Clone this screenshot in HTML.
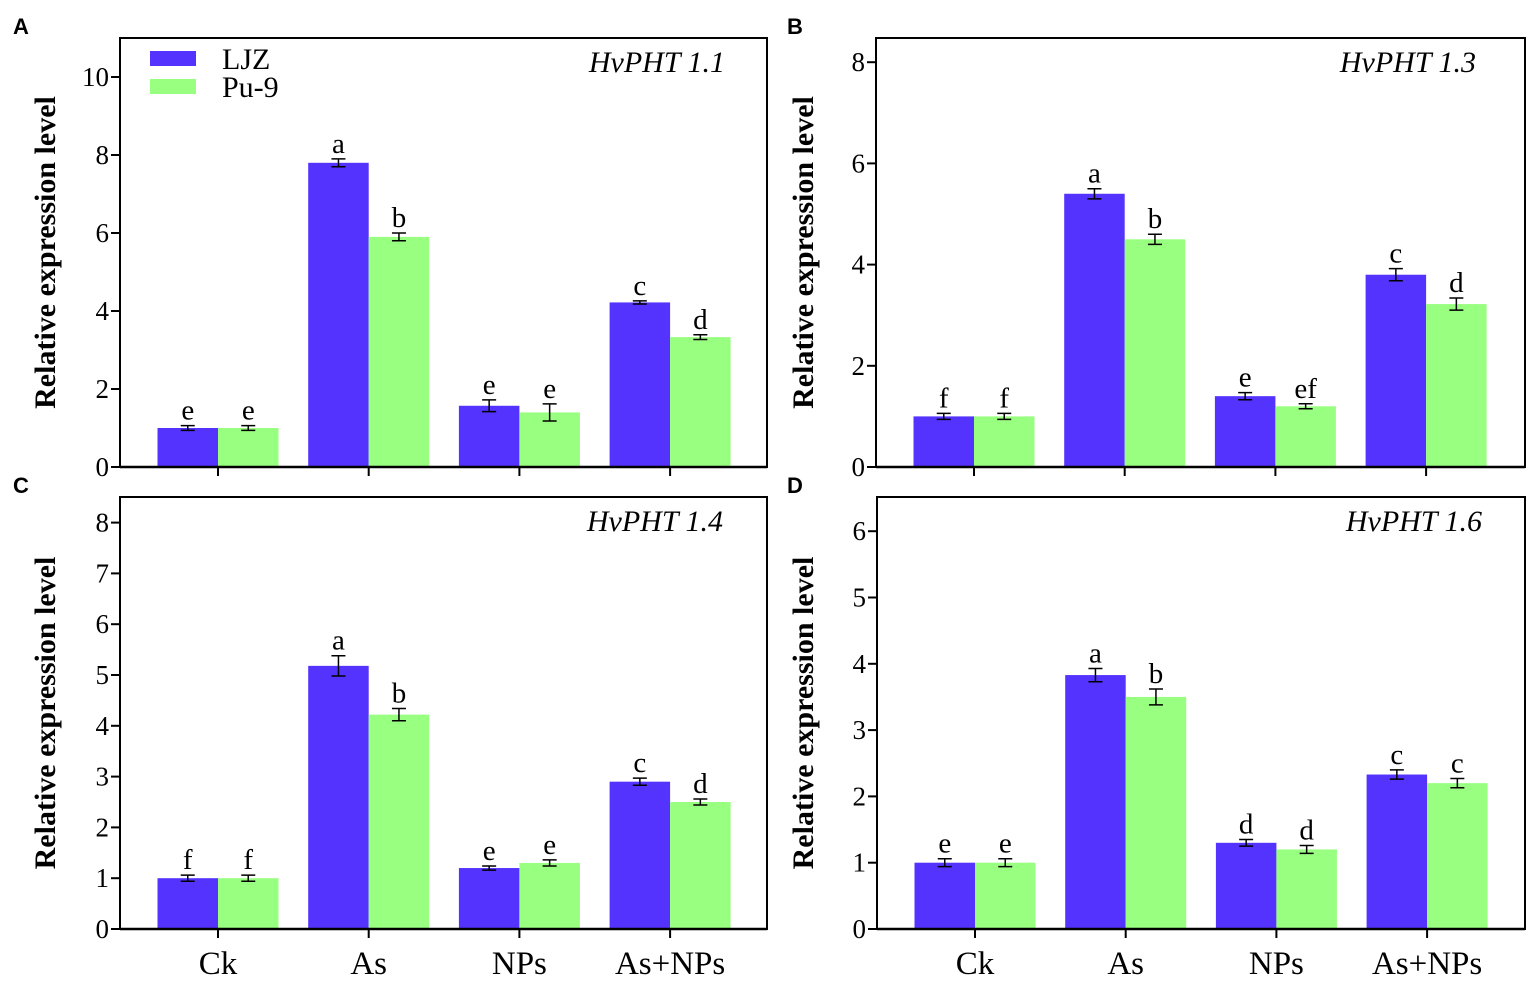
<!DOCTYPE html><html><head><meta charset="utf-8"><style>body{margin:0;background:#fff}svg{display:block}</style></head><body>
<svg id="s" width="1535" height="981" xmlns="http://www.w3.org/2000/svg" font-family="Liberation Serif, serif"></svg>
<script>
const P=[
 {L:'A',x0:120,x1:767,yt:38,y0:467,max:10,step:2,ppu:39,title:'HvPHT 1.1',tx:725,lx:13,ax:45,
  v:[[1,1],[7.8,5.9],[1.57,1.4],[4.22,3.33]],e:[[.06,.06],[.1,.1],[.15,.22],[.04,.06]],
  l:[['e','e'],['a','b'],['e','e'],['c','d']],cat:false,legend:true},
 {L:'B',x0:876,x1:1525,yt:38,y0:467,max:8,step:2,ppu:50.6,title:'HvPHT 1.3',tx:1476,lx:787,ax:803,
  v:[[1,1],[5.4,4.5],[1.4,1.2],[3.8,3.22]],e:[[.06,.06],[.1,.1],[.07,.05],[.12,.12]],
  l:[['f','f'],['a','b'],['e','ef'],['c','d']],cat:false},
 {L:'C',x0:120,x1:767,yt:497,y0:929,max:8,step:1,ppu:50.8,title:'HvPHT 1.4',tx:723,lx:13,ax:45,
  v:[[1,1],[5.18,4.22],[1.2,1.3],[2.9,2.5]],e:[[.06,.06],[.2,.12],[.04,.06],[.07,.06]],
  l:[['f','f'],['a','b'],['e','e'],['c','d']],cat:true},
 {L:'D',x0:877,x1:1525,yt:497,y0:929,max:6,step:1,ppu:66.3,title:'HvPHT 1.6',tx:1482,lx:787,ax:803,
  v:[[1,1],[3.83,3.5],[1.3,1.2],[2.33,2.2]],e:[[.06,.06],[.1,.12],[.05,.06],[.07,.07]],
  l:[['e','e'],['a','b'],['d','d'],['c','c']],cat:true}];
let h='';
const cats=['Ck','As','NPs','As+NPs'];
for(const p of P){
 h+=`<rect x="${p.x0}" y="${p.yt}" width="${p.x1-p.x0}" height="${p.y0-p.yt}" fill="none" stroke="#000" stroke-width="2"/>`;
 h+=`<text x="${p.lx}" y="${p.yt-4}" font-family="Liberation Sans, sans-serif" font-weight="bold" font-size="22">${p.L}</text>`;
 for(let t=0;t<=p.max;t+=p.step){const y=p.y0-t*p.ppu;
  h+=`<line x1="${p.x0-9}" x2="${p.x0}" y1="${y}" y2="${y}" stroke="#000" stroke-width="2"/><text x="${p.x0-11}" y="${y+9}" font-size="27" text-anchor="end">${t}</text>`;}
 const cy=(p.yt+p.y0)/2;
 h+=`<text transform="translate(${p.ax+10},${cy}) rotate(-90)" font-size="30" font-weight="bold" text-anchor="middle">Relative expression level</text>`;
 h+=`<text x="${p.tx}" y="${p.yt+34}" font-size="30" font-style="italic" text-anchor="end">${p.title}</text>`;
 const bw=60.5;
 for(let i=0;i<4;i++){const c=p.x0+98+i*150.7;
  for(let j=0;j<2;j++){const x=j?c:c-bw,v=p.v[i][j],y=p.y0-v*p.ppu,col=j?'#99ff80':'#5533ff';
   h+=`<rect x="${x}" y="${y}" width="${bw}" height="${p.y0-y}" fill="${col}"/>`;
   const mx=x+bw/2,ey=p.e[i][j]*p.ppu;
   h+=`<path d="M${mx-7} ${y-ey}H${mx+7}M${mx} ${y-ey}V${y+ey}M${mx-7} ${y+ey}H${mx+7}" stroke="#000" stroke-width="1.5" fill="none"/>`;
   h+=`<text x="${mx}" y="${y-ey-6}" font-size="29" text-anchor="middle">${p.l[i][j]}</text>`;}
  h+=`<line x1="${c}" x2="${c}" y1="${p.y0}" y2="${p.y0+9}" stroke="#000" stroke-width="2"/>`;
  if(p.cat)h+=`<text x="${c}" y="974" font-size="33" text-anchor="middle">${cats[i]}</text>`;}
 h+=`<line x1="${p.x0}" x2="${p.x1}" y1="${p.y0}" y2="${p.y0}" stroke="#000" stroke-width="2.5"/>`;
 if(p.legend){h+=`<rect x="150" y="51" width="46" height="15" fill="#5533ff"/><rect x="150" y="79" width="46" height="15" fill="#99ff80"/><text x="222" y="69" font-size="30">LJZ</text><text x="222" y="97" font-size="30">Pu-9</text>`;}
}
document.getElementById('s').innerHTML=h;
</script></body></html>
